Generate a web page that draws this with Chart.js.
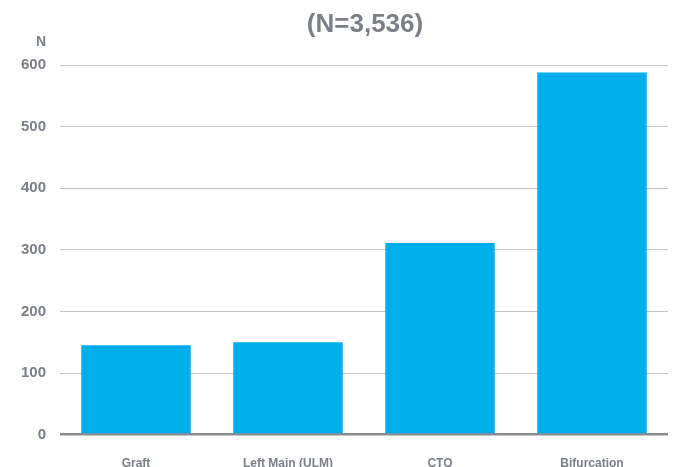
<!DOCTYPE html>
<html>
<head>
<meta charset="utf-8">
<script src="https://cdn.jsdelivr.net/npm/chart.js@4"></script>
<style>
  html, body { margin: 0; padding: 0; background: #fff; overflow: hidden; }
  #wrap { width: 673px; height: 493px; }
</style>
</head>
<body>
<div id="wrap"><canvas id="chart" width="673" height="493"></canvas></div>
<script>
// data
const categories = ['Graft', 'Left Main (ULM)', 'CTO', 'Bifurcation'];
const counts = [145, 150, 311, 588];
const yTicks = [0, 100, 200, 300, 400, 500, 600];
const titleText = '(N=3,536)';

const grey = '#7b7f87';
const fontFamily = '"Liberation Sans", Arial, sans-serif';

// title centred over the plot area and the little "N" above the y axis
const headerText = {
    id: 'headerText',
    afterDraw(chart) {
        const ctx = chart.ctx;
        const area = chart.chartArea;
        const y = chart.scales.y;
        ctx.save();
        ctx.fillStyle = grey;
        ctx.textAlign = 'center';
        ctx.textBaseline = 'middle';
        ctx.font = 'bold 26px ' + fontFamily;
        ctx.fillText(titleText, (area.left + area.right) / 2 + 1, 25);
        ctx.font = 'bold 14px ' + fontFamily;
        ctx.fillText('N', 41, y.getPixelForValue(600) - 23);
        ctx.restore();
    }
};

new Chart(document.getElementById('chart'), {
    type: 'bar',
    data: {
        labels: categories,
        datasets: [{
            data: counts,
            backgroundColor: '#00adeb',
            borderWidth: 0,
            barPercentage: 0.72,
            categoryPercentage: 1
        }]
    },
    options: {
        responsive: false,
        animation: false,
        layout: { padding: { top: 65, right: 5, left: 0, bottom: 0 } },
        plugins: {
            legend: { display: false },
            tooltip: { enabled: false },
            title: { display: false }
        },
        scales: {
            y: {
                min: 0,
                max: 600,
                afterBuildTicks: (scale) => { scale.ticks = yTicks.map(v => ({ value: v })); },
                afterFit: (scale) => { scale.width = 60; },
                border: { display: false },
                grid: {
                    drawTicks: false,
                    color: (c) => c.tick.value === 0 ? '#8a8c90' : '#c4c5c8',
                    lineWidth: (c) => c.tick.value === 0 ? 2.5 : 1
                },
                ticks: {
                    color: grey,
                    padding: 14,
                    font: { family: fontFamily, size: 15, weight: 'bold' }
                }
            },
            x: {
                border: { display: false },
                grid: { display: false, drawTicks: false },
                ticks: {
                    color: grey,
                    padding: 22,
                    font: { family: fontFamily, size: 12, weight: 'bold' }
                }
            }
        }
    },
    plugins: [headerText]
});
</script>
</body>
</html>
